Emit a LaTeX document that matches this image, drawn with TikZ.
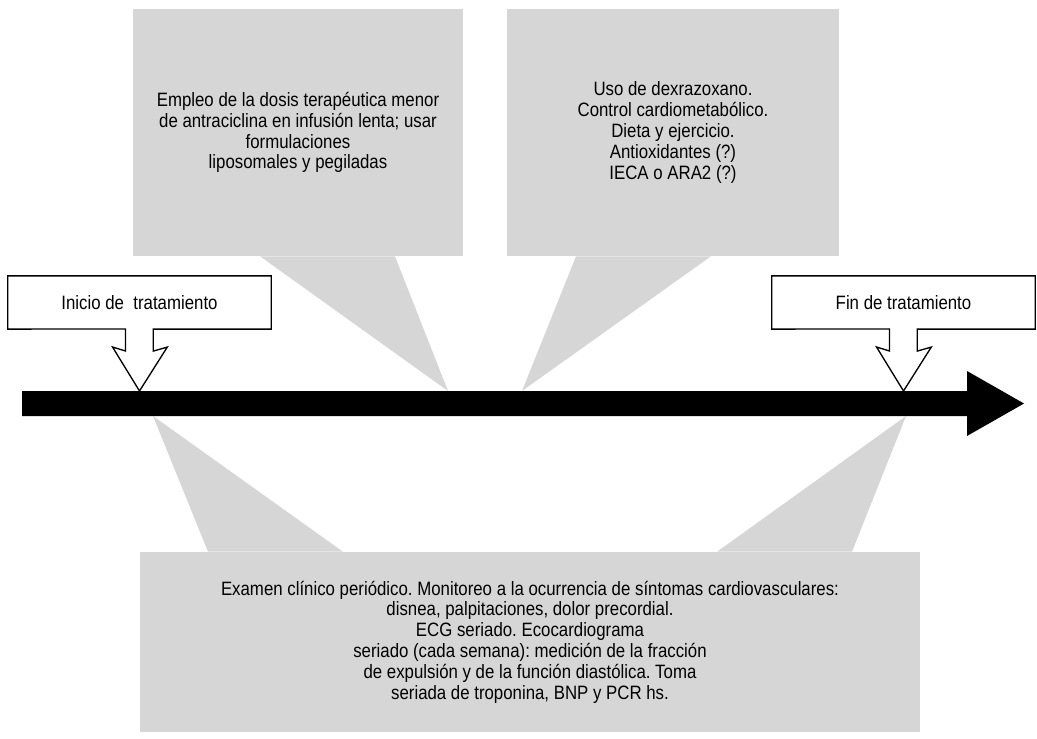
\documentclass[tikz,border=0pt]{standalone}
\usepackage{fontspec}
\setmainfont{Liberation Sans}[FakeStretch=0.87]
\usepackage{tikz}
\usetikzlibrary{positioning}
\frenchspacing
\definecolor{callgray}{RGB}{214,214,214}
\tikzstyle{note} = [rectangle, fill=callgray, align=center, inner sep=0pt]
\tikzstyle{milestone} = [rectangle, align=center, inner sep=0pt,
    minimum width=197.25pt, minimum height=39.5pt]
\tikzstyle{outline} = [draw=black, line width=1pt, line join=miter]

\begin{document}
\begin{tikzpicture}[
x=0.75pt, y=-0.75pt,
font=\fontsize{14.5}{15.6}\selectfont,
tail/.style = {fill=callgray},
                        ]
\useasboundingbox (0,0) rectangle (1037,738);

% tips on the time line
\coordinate (t1) at (139.5,391);
\coordinate (t2) at (903.5,391);
\coordinate (dosistip) at (448,391);
\coordinate (dexratip) at (522,391);
\coordinate (examltip) at (153,416);
\coordinate (examrtip) at (906,416);

% gray notes
\node [note, minimum width=247.5pt, minimum height=185.25pt] (dosis) at (298,132.5)
	{Empleo de la dosis terap\'eutica menor\\
	 de antraciclina en infusi\'on lenta; usar\\
	 formulaciones\\
	 liposomales y pegiladas};
\node [note, minimum width=249pt, minimum height=185.25pt] (dexra) at (673,132.5)
	{Uso de dexrazoxano.\\
	 Control cardiometab\'olico.\\
	 Dieta y ejercicio.\\
	 Antioxidantes (?)\\
	 IECA o ARA2 (?)};
\node [note, minimum width=585pt, minimum height=135pt] (exam) at (530,642)
	{Examen cl\'inico peri\'odico. Monitoreo a la ocurrencia de s\'intomas cardiovasculares:\\
	 disnea, palpitaciones, dolor precordial.\\
	 ECG seriado. Ecocardiograma\\
	 seriado (cada semana): medici\'on de la fracci\'on\\
	 de expulsi\'on y de la funci\'on diast\'olica. Toma\\
	 seriada de troponina, BNP y PCR hs.};

% tails of the notes
\fill [tail] (dosis.south) ++(-38,0) -- ++(135,0) -- (dosistip) -- cycle;
\fill [tail] (dexra.south) ++(-97,0) -- ++(135,0) -- (dexratip) -- cycle;
\fill [tail] (exam.north) ++(-322,0) -- ++(135,0) -- (examltip) -- cycle;
\fill [tail] (exam.north) ++(187,0) -- ++(135,0) -- (examrtip) -- cycle;

% time line
\fill [black] (22,391) -- (967,391) -- (967,371) -- (1024,403.5)
	-- (967,436) -- (967,416) -- (22,416) -- cycle;

% start and end of treatment
\node [milestone] (inicio) at (139.5,302.5) {Inicio de\ \ tratamiento};
\node [milestone] (fin) at (903.5,302.5) {Fin de tratamiento};
\draw [outline] (inicio.south west) -- (inicio.north west) -- (inicio.north east)
	-- (inicio.south east) -- ++(-118,0) -- ++(0,22) -- ++(14,-4) -- (t1)
	-- ++(-27,-44) -- ++(13,4) -- ++(0,-22) -- cycle;
\draw [outline] (fin.south west) -- (fin.north west) -- (fin.north east)
	-- (fin.south east) -- ++(-118,0) -- ++(0,22) -- ++(14,-4) -- (t2)
	-- ++(-27,-44) -- ++(13,4) -- ++(0,-22) -- cycle;
\end{tikzpicture}
\end{document}
